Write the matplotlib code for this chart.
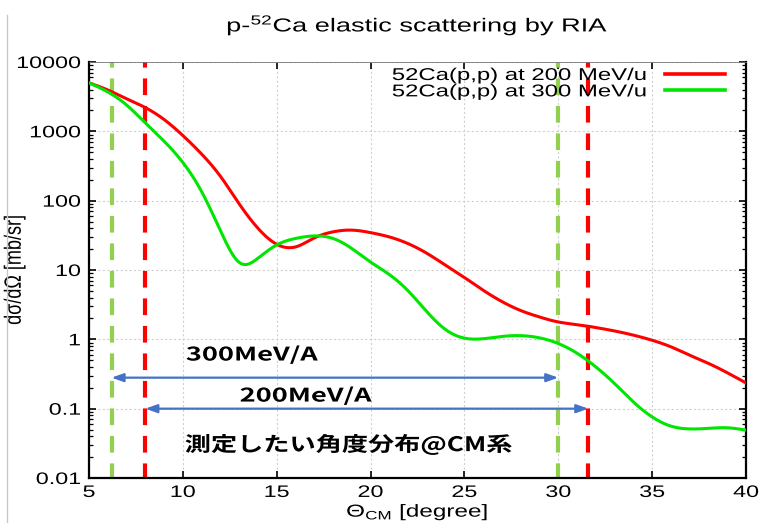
import numpy as np
import matplotlib
matplotlib.use("Agg")
import matplotlib.pyplot as plt
from matplotlib.lines import Line2D
from matplotlib.patheffects import AbstractPathEffect
from matplotlib.transforms import Affine2D
from matplotlib.ticker import LogLocator, NullFormatter, FixedLocator

# Differential cross sections (mb/sr) vs CM angle (degree), 200 MeV/u
theta_200 = [5, 6, 7, 8, 9, 10, 11, 12, 13, 14, 15, 16, 17, 18, 19, 20,
             21, 22, 23, 24, 25, 26, 27, 28, 29, 30, 31, 32, 33, 34, 35, 36,
             37, 38, 39, 40]
sigma_200 = [5000, 3950, 2950, 2200, 1480, 870, 470, 225, 90, 40, 23.5,
             21.5, 29, 35.5, 37.6, 34.6, 30, 24, 17.4, 11.7, 7.8, 5.1, 3.5,
             2.6, 2.1, 1.78, 1.63, 1.48, 1.32, 1.15, 0.97, 0.78, 0.59, 0.45,
             0.33, 0.235]

# 300 MeV/u
theta_300 = [5, 6, 7, 8, 9, 10, 11, 12, 13, 13.5, 14, 15, 16, 17, 18, 19,
             20, 21, 22, 23, 24, 25, 26, 27, 28, 29, 30, 31, 32, 33, 34, 35,
             36, 37, 38, 39, 40]
sigma_300 = [5000, 3700, 2400, 1320, 720, 355, 135, 37, 12.9, 12.2,
             14.8, 23, 28.5, 31, 28.5, 20.4, 13, 8.6, 5.0, 2.5, 1.38, 1.04,
             1.02, 1.1, 1.13, 1.05, 0.87, 0.63, 0.40, 0.23, 0.125, 0.076,
             0.056, 0.051, 0.052, 0.053, 0.049]

# Angular ranges to be measured (degree) and arrow heights (mb/sr)
range_300 = (6.2, 30.0)
range_200 = (8.0, 31.6)
arrow_y_300 = 0.28
arrow_y_200 = 0.1

xticks = [5, 10, 15, 20, 25, 30, 35, 40]
yticks = [0.01, 0.1, 1, 10, 100, 1000, 10000]
ytick_labels = ["0.01", "0.1", "1", "10", "100", "1000", "10000"]

label_200 = "52Ca(p,p) at 200 MeV/u"
label_300 = "52Ca(p,p) at 300 MeV/u"
note_300 = "300MeV/A"
note_200 = "200MeV/A"
note_jp = "測定したい角度分布@CM系"


def smooth(x, y, n=600):
    """Natural cubic spline through the points, in log space."""
    x = np.asarray(x, float)
    ly = np.log10(np.asarray(y, float))
    k = len(x)
    h = np.diff(x)
    A = np.zeros((k, k))
    b = np.zeros(k)
    A[0, 0] = A[-1, -1] = 1.0
    for i in range(1, k - 1):
        A[i, i - 1] = h[i - 1]
        A[i, i] = 2 * (h[i - 1] + h[i])
        A[i, i + 1] = h[i]
        b[i] = 6 * ((ly[i + 1] - ly[i]) / h[i] - (ly[i] - ly[i - 1]) / h[i - 1])
    M = np.linalg.solve(A, b)
    xs = np.linspace(x[0], x[-1], n)
    idx = np.clip(np.searchsorted(x, xs) - 1, 0, k - 2)
    hi = h[idx]
    a = (x[idx + 1] - xs) / hi
    c = (xs - x[idx]) / hi
    ys = (a * ly[idx] + c * ly[idx + 1]
          + ((a**3 - a) * M[idx] + (c**3 - c) * M[idx + 1]) * hi**2 / 6)
    return xs, 10 ** ys


class Stretch(AbstractPathEffect):
    """Draw glyphs widened along the text's x (or y) axis."""

    def __init__(self, sx=1.0, sy=1.0, anchor="center"):
        super().__init__()
        self.sx, self.sy, self.anchor = sx, sy, anchor

    def draw_path(self, renderer, gc, tpath, affine, rgbFace=None):
        ext = tpath.get_extents()
        if self.anchor == "left":
            cx = ext.x0
        elif self.anchor == "right":
            cx = ext.x1
        else:
            cx = 0.5 * (ext.x0 + ext.x1)
        cy = 0.5 * (ext.y0 + ext.y1)
        tr = (Affine2D().translate(-cx, -cy).scale(self.sx, self.sy)
              .translate(cx, cy) + affine)
        renderer.draw_path(gc, tpath, tr, rgbFace)


plt.rcParams["font.family"] = ["Liberation Sans", "DejaVu Sans"]
plt.rcParams["mathtext.fontset"] = "custom"
plt.rcParams["mathtext.rm"] = "Liberation Sans"
plt.rcParams["mathtext.it"] = "Liberation Sans:italic"

W, H = 761, 523
fig = plt.figure(figsize=(W / 100, H / 100), dpi=100)
ax = fig.add_axes([89 / W, 45 / H, 657 / W, 416 / H])

RED = "#ff0000"
GREEN = "#00e600"
LGREEN = "#92d050"
BLUE = "#4472c4"
SX = 1.4

x2, y2 = smooth(theta_200, sigma_200)
x3, y3 = smooth(theta_300, sigma_300)
ax.plot(x2, y2, color=RED, lw=2.2, zorder=3)
ax.plot(x3, y3, color=GREEN, lw=2.2, zorder=3)

# Range markers
dash = (0.5, (4.0, 2.6))
for xv in range_300:
    ax.axvline(xv, color=LGREEN, lw=3.0, ls=dash, zorder=2)
for xv in range_200:
    ax.axvline(xv, color=RED, lw=3.0, ls=dash, zorder=2)

arrow_kw = dict(arrowstyle="<|-|>,head_length=0.7,head_width=0.25",
                color=BLUE, lw=1.6, shrinkA=0, shrinkB=0)
ax.annotate("", xy=(range_300[0], arrow_y_300), xytext=(range_300[1], arrow_y_300),
            arrowprops=arrow_kw, zorder=4)
ax.annotate("", xy=(range_200[0], arrow_y_200), xytext=(range_200[1], arrow_y_200),
            arrowprops=arrow_kw, zorder=4)

jp = ["Noto Sans CJK JP", "DejaVu Sans"]
t1 = ax.text(10.17, 0.594, note_300, fontsize=13.5, fontweight="bold",
             family=jp, ha="left", va="center")
t2 = ax.text(13.04, 0.152, note_200, fontsize=13.5, fontweight="bold",
             family=jp, ha="left", va="center")
t3 = ax.text(10.11, 0.0299, note_jp, fontsize=14.5, fontweight="bold",
             family=jp, ha="left", va="center")
t1.set_path_effects([Stretch(sx=1.45, anchor="left")])
t2.set_path_effects([Stretch(sx=1.45, anchor="left")])
t3.set_path_effects([Stretch(sx=1.3, anchor="left")])

ax.set_yscale("log")
ax.set_xlim(5, 40)
ax.set_ylim(0.01, 10000)
ax.xaxis.set_major_locator(FixedLocator(xticks))
ax.set_xticklabels([str(v) for v in xticks])
ax.yaxis.set_major_locator(FixedLocator(yticks))
ax.set_yticklabels(ytick_labels)
ax.yaxis.set_minor_locator(LogLocator(base=10, subs=np.arange(2, 10), numticks=20))
ax.yaxis.set_minor_formatter(NullFormatter())

ax.tick_params(which="both", direction="in", top=True, right=True,
               labelsize=12, colors="black")
ax.tick_params(which="major", length=5, width=1.2)
ax.tick_params(which="minor", length=3, width=0.9)
ax.tick_params(axis="x", pad=5)
ax.tick_params(axis="y", pad=6)
for sp in ax.spines.values():
    sp.set_linewidth(1.6)
ax.spines["top"].set_linewidth(0.6)
ax.spines["top"].set_color("#777777")

ax.grid(True, which="major", color="#d0d0d0", ls=(0, (2, 2)), lw=0.8)
ax.set_axisbelow(True)

for lbl in ax.get_xticklabels():
    lbl.set_path_effects([Stretch(sx=SX, anchor="center")])
for lbl in ax.get_yticklabels():
    lbl.set_path_effects([Stretch(sx=SX, anchor="right")])

xl = ax.set_xlabel(r"$\Theta_{\mathrm{CM}}$ [degree]", fontsize=12.5, labelpad=2)
xl.set_path_effects([Stretch(sx=SX, anchor="center")])
yl = ax.set_ylabel("dσ/dΩ [mb/sr]", fontsize=13, labelpad=8)
yl.set_path_effects([Stretch(sy=1.3, anchor="center")])
tt = ax.set_title("p-$^{52}$Ca elastic scattering by RIA", fontsize=13.5, pad=22)
tt.set_path_effects([Stretch(sx=1.45, anchor="center")])

handles = [Line2D([], [], color=RED, lw=2.6), Line2D([], [], color=GREEN, lw=2.6)]
leg = ax.legend(handles, [label_200, label_300], loc="upper right",
                frameon=False, fontsize=12.3, markerfirst=False,
                handlelength=3.5, handletextpad=1.05, borderpad=0,
                borderaxespad=0, labelspacing=0.08,
                bbox_to_anchor=(725 / W, 1 - 68 / H),
                bbox_transform=fig.transFigure)
for txt in leg.get_texts():
    txt.set_path_effects([Stretch(sx=SX, anchor="right")])

# Slide frame edge on the left
fig.add_artist(Line2D([7 / W, 7 / W], [0, 1 - 15 / H],
                      transform=fig.transFigure, color="#c8c8c8", lw=1.0))

fig.savefig("out.png", dpi=100)
